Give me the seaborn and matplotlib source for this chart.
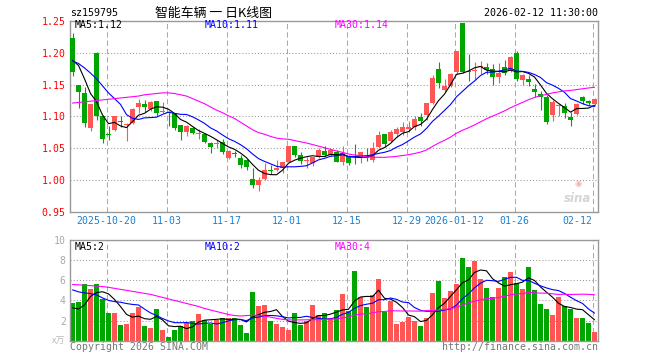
import numpy as np
import pandas as pd
import matplotlib
matplotlib.use("Agg")
import matplotlib.pyplot as plt
import seaborn as sns

# ---------------- data ----------------
opens = [1.223, 1.149, 1.137, 1.082, 1.200, 1.100, 1.072, 1.079, 1.093, 1.086,
         1.090, 1.115, 1.119, 1.111, 1.124, 1.107, 1.107, 1.105, 1.086, 1.076,
         1.082, 1.072, 1.073, 1.059, 1.057, 1.060, 1.035, 1.043, 1.035, 1.032,
         1.002, 0.992, 1.002, 1.016, 1.016, 1.020, 1.029, 1.054, 1.040, 1.030,
         1.027, 1.037, 1.046, 1.040, 1.045, 1.029, 1.038, 1.038, 1.037, 1.038,
         1.032, 1.053, 1.072, 1.062, 1.073, 1.076, 1.080, 1.084, 1.099, 1.102,
         1.121, 1.175, 1.142, 1.147, 1.170, 1.247, 1.172, 1.171, 1.177, 1.178,
         1.175, 1.162, 1.178, 1.172, 1.199, 1.157, 1.159, 1.143, 1.135, 1.131,
         1.102, 1.117, 1.116, 1.099, 1.104, 1.130, 1.124, 1.119]
closes = [1.169, 1.139, 1.090, 1.119, 1.100, 1.064, 1.071, 1.100, 1.091, 1.087,
          1.111, 1.121, 1.115, 1.123, 1.106, 1.108, 1.105, 1.082, 1.076, 1.085,
          1.074, 1.073, 1.060, 1.053, 1.058, 1.045, 1.046, 1.041, 1.024, 1.021,
          0.993, 1.000, 1.016, 1.015, 1.020, 1.029, 1.054, 1.040, 1.031, 1.031,
          1.037, 1.048, 1.040, 1.047, 1.029, 1.043, 1.027, 1.036, 1.044, 1.035,
          1.050, 1.071, 1.057, 1.076, 1.081, 1.084, 1.084, 1.096, 1.093, 1.121,
          1.161, 1.153, 1.147, 1.167, 1.202, 1.170, 1.170, 1.172, 1.178, 1.173,
          1.162, 1.168, 1.168, 1.193, 1.158, 1.165, 1.154, 1.139, 1.131, 1.092,
          1.123, 1.118, 1.106, 1.095, 1.120, 1.124, 1.121, 1.128]
highs = [1.230, 1.150, 1.146, 1.120, 1.201, 1.102, 1.085, 1.101, 1.100, 1.090,
         1.113, 1.128, 1.126, 1.125, 1.125, 1.122, 1.108, 1.106, 1.086, 1.086,
         1.083, 1.081, 1.074, 1.060, 1.063, 1.064, 1.047, 1.046, 1.040, 1.033,
         1.019, 1.006, 1.027, 1.024, 1.032, 1.029, 1.054, 1.054, 1.045, 1.037,
         1.037, 1.050, 1.054, 1.048, 1.047, 1.054, 1.040, 1.057, 1.045, 1.050,
         1.060, 1.078, 1.072, 1.079, 1.084, 1.092, 1.093, 1.100, 1.105, 1.121,
         1.165, 1.185, 1.159, 1.168, 1.203, 1.247, 1.198, 1.185, 1.187, 1.183,
         1.182, 1.183, 1.188, 1.194, 1.203, 1.167, 1.165, 1.151, 1.140, 1.133,
         1.126, 1.120, 1.121, 1.107, 1.121, 1.132, 1.126, 1.129]
lows = [1.163, 1.113, 1.083, 1.077, 1.095, 1.059, 1.063, 1.077, 1.084, 1.062,
        1.088, 1.106, 1.107, 1.109, 1.100, 1.105, 1.085, 1.079, 1.063, 1.069,
        1.072, 1.064, 1.058, 1.043, 1.050, 1.042, 1.033, 1.037, 1.020, 1.016,
        0.988, 0.984, 1.000, 1.010, 1.015, 1.011, 1.028, 1.037, 1.026, 1.019,
        1.022, 1.035, 1.038, 1.038, 1.028, 1.024, 1.024, 1.026, 1.027, 1.031,
        1.029, 1.050, 1.053, 1.060, 1.068, 1.071, 1.076, 1.079, 1.085, 1.094,
        1.120, 1.144, 1.139, 1.146, 1.167, 1.168, 1.156, 1.159, 1.167, 1.167,
        1.150, 1.152, 1.165, 1.170, 1.156, 1.149, 1.147, 1.131, 1.110, 1.089,
        1.093, 1.100, 1.097, 1.085, 1.102, 1.120, 1.118, 1.117]
volumes = [3.73, 3.83, 5.6, 5.1, 5.6, 4.17, 2.8, 2.8, 1.6, 1.7,
           2.8, 3.33, 1.5, 1.3, 3.1, 1.1, 0.4, 1.1, 1.5, 1.9,
           2.0, 2.7, 2.1, 1.7, 2.1, 2.3, 2.3, 2.3, 1.6, 0.8,
           4.8, 3.4, 3.5, 2.0, 1.7, 1.4, 1.1, 2.8, 1.6, 2.0,
           3.5, 2.6, 2.8, 2.3, 3.0, 4.6, 2.9, 6.9, 4.3, 3.3,
           4.5, 6.1, 2.87, 3.9, 1.7, 1.9, 2.4, 2.0, 1.5, 2.3,
           4.7, 5.9, 4.2, 4.9, 5.6, 8.2, 7.3, 7.9, 6.1, 5.2,
           4.3, 5.2, 6.3, 6.8, 5.7, 5.1, 7.3, 5.0, 3.6, 3.1,
           2.6, 4.3, 3.4, 3.1, 2.3, 2.3, 1.8, 0.9]

# moving-average values at the left edge (their windows start before the chart)
price_ma5_head = [1.188, 1.180, 1.159, 1.136]
price_ma10_head = [1.187, 1.183, 1.176, 1.168, 1.159, 1.148, 1.137, 1.128, 1.119]
price_ma30_head = [1.121, 1.122, 1.123, 1.124, 1.125, 1.126, 1.127, 1.128, 1.129, 1.130,
                   1.131, 1.132, 1.134, 1.135, 1.136, 1.137, 1.137, 1.136, 1.134, 1.132,
                   1.128, 1.124, 1.120, 1.115, 1.110, 1.106, 1.101, 1.097, 1.091]
vol_ma5_head = [3.27, 3.15, 3.55, 4.4]
vol_ma10_head = [5.05, 4.85, 4.75, 4.68, 4.55, 4.25, 4.0, 3.88, 3.82]
vol_ma30_head = [5.58, 5.55, 5.5, 5.47, 5.42, 5.38, 5.3, 5.2, 5.1, 5.0,
                 4.9, 4.8, 4.7, 4.6, 4.45, 4.3, 4.15, 4.0, 3.85, 3.7,
                 3.55, 3.4, 3.2, 3.05, 2.9, 2.75, 2.6, 2.5, 2.45]

date_labels = ["2025-10-20", "11-03", "11-17", "12-01", "12-15",
               "12-29", "2026-01-12", "01-26", "02-12"]
date_index = [6, 16, 26, 36, 46, 56, 64, 74, 87]
price_ticks = [0.95, 1.00, 1.05, 1.10, 1.15, 1.20, 1.25]
vol_ticks = [2, 4, 6, 8, 10]

code = "sz159795"
title = "智能车辆 一 日K线图"
stamp = "2026-02-12 11:30:00"
legend_price = ["MA5:1.12", "MA10:1.11", "MA30:1.14"]
legend_vol = ["MA5:2", "MA10:2", "MA30:4"]

# ---------------- style ----------------
sns.set_style("white")
plt.rcParams["font.family"] = ["DejaVu Sans Mono", "Noto Sans CJK SC"]

RED = "#FF5555"
GREEN = "#00A600"
MA_COLORS = ["#000000", "#0000FF", "#FF00FF"]
W, H = 660, 360


def moving(values, n, head):
    s = pd.Series(values, dtype=float).rolling(n).mean().to_numpy()
    s[:len(head)] = head
    return s


opens_a = np.array(opens)
closes_a = np.array(closes)
n = len(closes_a)
x = np.arange(n)
cx = x + 5 / 12
colors = np.where(closes_a >= opens_a, RED, GREEN)

fig = plt.figure(figsize=(W / 100, H / 100), dpi=100)
fig.patch.set_facecolor("white")
ax = fig.add_axes([70 / W, 1 - 212.3 / H, 528 / W, (212.3 - 20.7) / H])
axv = fig.add_axes([70 / W, 1 - 340.7 / H, 528 / W, (340.7 - 240) / H])

grid_x = np.array(date_index) + 1 / 12
for a in (ax, axv):
    for gx in grid_x:
        a.axvline(gx, color="#AAAAAA", lw=0.75, ls=(0, (5, 3)), zorder=0)
for yv in price_ticks[1:-1]:
    ax.axhline(yv, color="#999999", lw=0.75, ls=(0, (1, 2)), zorder=0)
for yv in vol_ticks[:-1]:
    axv.axhline(yv, color="#999999", lw=0.75, ls=(0, (1, 2)), zorder=0)

# candles
ax.vlines(cx, lows, highs, colors=colors, linewidth=0.8, zorder=2)
body = np.maximum(np.abs(closes_a - opens_a), 0.0016)
ax.bar(x, body, bottom=np.minimum(opens_a, closes_a), width=5 / 6,
       align="edge", color=colors, linewidth=0, zorder=3)

# price moving averages
for (nn, head), col in zip([(5, price_ma5_head), (10, price_ma10_head), (30, price_ma30_head)], MA_COLORS):
    sns.lineplot(x=cx, y=moving(closes, nn, head), ax=ax, color=col, linewidth=0.8, zorder=4)

# volume bars and averages
axv.bar(x, volumes, width=5 / 6, align="edge", color=colors, linewidth=0, zorder=2)
for (nn, head), col in zip([(5, vol_ma5_head), (10, vol_ma10_head), (30, vol_ma30_head)], MA_COLORS):
    sns.lineplot(x=cx, y=moving(volumes, nn, head), ax=axv, color=col, linewidth=0.8, zorder=4)

# axes formatting
ax.set_xlim(0, n)
ax.set_ylim(0.95, 1.25)
axv.set_xlim(0, n)
axv.set_ylim(0, 10)
ax.set_yticks(price_ticks)
ax.set_yticklabels([f"{v:.2f}" for v in price_ticks])
ax.tick_params(axis="y", length=0, pad=3, labelsize=7.1, labelcolor="#FF0000")
ax.set_xticks(grid_x)
ax.set_xticklabels(date_labels)
ax.tick_params(axis="x", length=0, pad=2.5, labelsize=7.1, labelcolor="#1A80D0")
ax.get_xticklabels()[-1].set_ha("right")
ax.get_xticklabels()[-1].set_x(grid_x[-1])
axv.set_yticks(vol_ticks)
axv.set_yticklabels([str(v) for v in vol_ticks])
axv.tick_params(axis="y", length=0, pad=3, labelsize=7.1, labelcolor="#AAAAAA")
axv.set_xticks([])
for a in (ax, axv):
    a.set_xlabel("")
    a.set_ylabel("")
    for sp in a.spines.values():
        sp.set_color("#999999")
        sp.set_linewidth(1.0)
    a.set_facecolor("white")


def T(px, py, s, **kw):
    fig.text(px / W, 1 - py / H, s, va="center", **kw)


T(70, 13, code, ha="left", fontsize=7.2, color="black")
T(213, 13, title, ha="center", fontsize=9.3, color="black", family=["Noto Sans CJK SC", "DejaVu Sans"])
T(598, 13, stamp, ha="right", fontsize=7.2, color="black")
for px, s, col in zip([75, 205, 335], legend_price, MA_COLORS):
    T(px, 25.5, s, ha="left", fontsize=7.1, color=col)
for px, s, col in zip([75, 205, 335], legend_vol, MA_COLORS):
    T(px, 246.5, s, ha="left", fontsize=7.1, color=col)
T(70, 347, "Copyright 2026 SINA.COM", ha="left", fontsize=7.1, color="#777777")
T(598, 347, "http://finance.sina.com.cn", ha="right", fontsize=7.1, color="#777777")
T(65, 341, "x万", ha="right", fontsize=6.5, color="#BBBBBB", family=["Noto Sans CJK SC", "DejaVu Sans"])
T(578, 198, "sina", ha="center", fontsize=8.5, color="#D5D5D5", fontweight="bold", style="italic",
  family=["DejaVu Sans"])
T(578, 183.5, "◉", ha="center", fontsize=6, color="#F4B0B0", family=["DejaVu Sans"])

fig.savefig("out.png", dpi=100, facecolor="white")
